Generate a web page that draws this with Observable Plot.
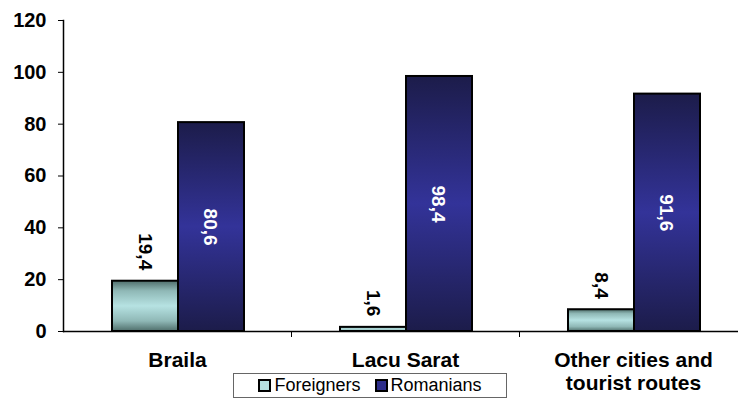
<!DOCTYPE html>
<html>
<head>
<meta charset="utf-8">
<script src="https://cdn.jsdelivr.net/npm/d3@7"></script>
<script src="https://cdn.jsdelivr.net/npm/@observablehq/plot@0.6"></script>
<style>
  html, body { margin: 0; padding: 0; background: #fff; }
  #wrap { position: relative; width: 738px; height: 399px; font-family: "Liberation Sans", Arial, sans-serif; }
  #legend { position: absolute; left: 233px; top: 373px; width: 272px; height: 23px; border: 1px solid #666;
            display: flex; align-items: center; justify-content: center; gap: 14px; font-size: 18px; color: #000; background: #fff; }
  .item { display: flex; align-items: center; }
  .sw { width: 9px; height: 9px; border: 2px solid #000; margin-right: 3px; }
</style>
</head>
<body>
<div id="wrap"></div>
<script>
const categories = ["Braila", "Lacu Sarat", "Other cities and tourist routes"];
const series = ["Foreigners", "Romanians"];
const foreigners = [19.4, 1.6, 8.4];
const romanians = [80.6, 98.4, 91.6];
const yTicks = [0, 20, 40, 60, 80, 100, 120];

const fRows = categories.map((c, i) => ({category: c, series: "Foreigners", value: foreigners[i]}));
const rRows = categories.map((c, i) => ({category: c, series: "Romanians", value: romanians[i]}));
const fmt = v => d3.format(".1f")(v).replace(".", ",");
const catLabel = c => c === "Other cities and tourist routes" ? "Other cities and\ntourist routes" : c;

const font = "Liberation Sans, Arial, sans-serif";

const svg = Plot.plot({
  width: 738,
  height: 399,
  marginLeft: 63,
  marginRight: 0,
  marginTop: 20,
  marginBottom: 68,
  style: {fontFamily: font, color: "#000", background: "transparent"},
  x: {domain: categories, range: [63, 747], padding: 0, label: null},
  y: {domain: [0, 120], label: null},
  marks: [
    Plot.barY(fRows, {x: "category", y: "value", fill: "url(#gradF)", stroke: "#000", strokeWidth: 2, insetLeft: 49, insetRight: 113}),
    Plot.barY(rRows, {x: "category", y: "value", fill: "url(#gradR)", stroke: "#000", strokeWidth: 2, insetLeft: 115, insetRight: 47}),
    Plot.ruleY([0], {stroke: "#000", strokeWidth: 1.5}),
    Plot.frame({anchor: "left", stroke: "#000", strokeWidth: 1.5}),
    Plot.ruleX(categories.slice(1), {x: d => d, dx: -114, y1: 0, y2: 0, insetBottom: -6, stroke: "#000"}),
    Plot.axisY({ticks: yTicks, tickSize: 5, tickPadding: 12, fontSize: 20, fontWeight: "bold", label: null}),
    Plot.axisX({tickSize: 0, tickPadding: 19, fontSize: 21, fontWeight: "bold", tickFormat: catLabel, lineHeight: 1.1, label: null}),
    Plot.text(fRows, {x: "category", y: "value", text: d => fmt(d.value), rotate: 90, textAnchor: "end", dx: -32, dy: -11, fontSize: 19, fontWeight: "bold", fill: "#000"}),
    Plot.text(rRows, {x: "category", y: d => d.value / 2, text: d => fmt(d.value), rotate: 90, textAnchor: "middle", dx: 33, fontSize: 19, fontWeight: "bold", fill: "#fff"})
  ]
});

const defs = d3.select(svg).insert("defs", ":first-child");
const gF = defs.append("linearGradient").attr("id", "gradF").attr("x1", 0).attr("y1", 0).attr("x2", 0).attr("y2", 1);
[[0, "#4f6e6b"], [0.2, "#8fb8b6"], [0.5, "#b6e2e2"], [0.8, "#8fb8b6"], [1, "#4f6e6b"]].forEach(([o, c]) => gF.append("stop").attr("offset", o).attr("stop-color", c));
const gR = defs.append("linearGradient").attr("id", "gradR").attr("x1", 0).attr("y1", 0).attr("x2", 0).attr("y2", 1);
[[0, "#1c1c4a"], [0.5, "#333399"], [1, "#1c1c4a"]].forEach(([o, c]) => gR.append("stop").attr("offset", o).attr("stop-color", c));

const wrap = document.getElementById("wrap");
wrap.appendChild(svg);

const legend = document.createElement("div");
legend.id = "legend";
const swColors = {Foreigners: "#b6e2e2", Romanians: "#2d2d8a"};
series.forEach(s => {
  const it = document.createElement("div");
  it.className = "item";
  const sw = document.createElement("div");
  sw.className = "sw";
  sw.style.background = swColors[s];
  it.appendChild(sw);
  it.appendChild(document.createTextNode(s));
  legend.appendChild(it);
});
wrap.appendChild(legend);
</script>
</body>
</html>
